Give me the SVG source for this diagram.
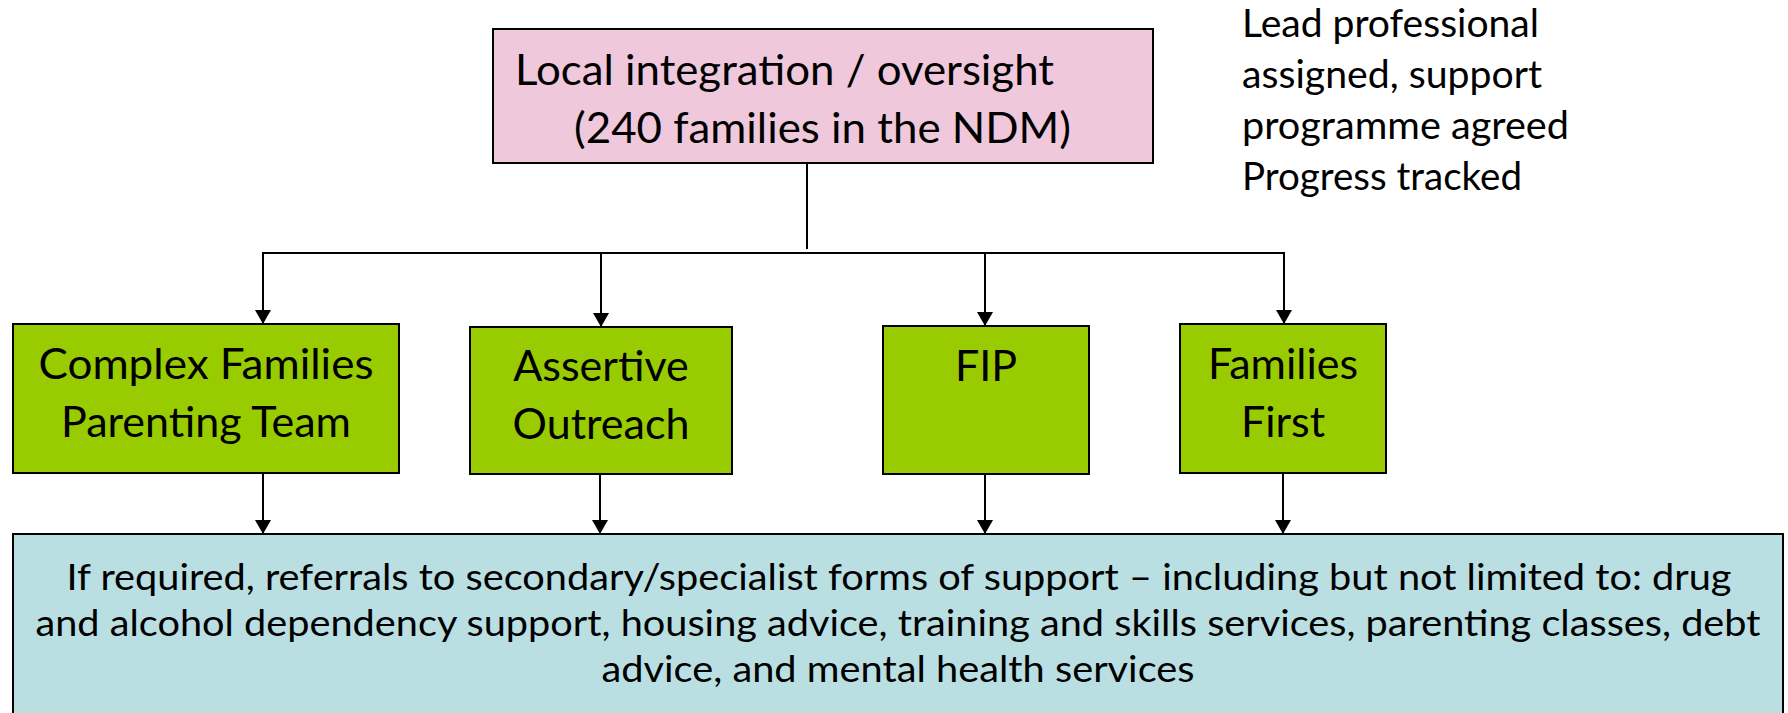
<svg xmlns="http://www.w3.org/2000/svg" width="1788" height="713" viewBox="0 0 1788 713">
  <defs>
    <marker id="arrow" viewBox="0 0 14 16" refX="14" refY="8" markerWidth="14" markerHeight="16" markerUnits="userSpaceOnUse" orient="auto">
      <path d="M0,0 L14,8 L0,16 Z" fill="#000"/>
    </marker>
  </defs>
  <style>
    text { font-family: Lato, "Liberation Sans", sans-serif; fill: #000; }
    .box { stroke: #000; stroke-width: 2; }
    .pink { fill: #EFC8DC; }
    .green { fill: #99CC00; }
    .blue { fill: #B9DFE3; }
    .big { font-size: 43px; }
    .mid { font-size: 38px; }
    .small { font-size: 36px; }
    .c { text-anchor: middle; }
    .conn { stroke: #000; stroke-width: 2; fill: none; }
    .arr { stroke: #000; stroke-width: 2; fill: none; marker-end: url(#arrow); }
  </style>
  <rect width="1788" height="713" fill="#fff"/>

  <g id="connectors">
    <line class="conn" x1="807" y1="163" x2="807" y2="249"/>
    <line class="conn" x1="262" y1="253" x2="1285" y2="253"/>
    <line class="arr" x1="263" y1="253" x2="263" y2="324"/>
    <line class="arr" x1="601" y1="253" x2="601" y2="327"/>
    <line class="arr" x1="985" y1="253" x2="985" y2="326"/>
    <line class="arr" x1="1284" y1="253" x2="1284" y2="324"/>
    <line class="arr" x1="263" y1="473" x2="263" y2="534"/>
    <line class="arr" x1="600" y1="474" x2="600" y2="534"/>
    <line class="arr" x1="985" y1="474" x2="985" y2="534"/>
    <line class="arr" x1="1283" y1="473" x2="1283" y2="534"/>
  </g>

  <g id="oversight">
    <rect class="box pink" x="493" y="29" width="660" height="134"/>
    <text class="big" x="515" y="85" textLength="539" lengthAdjust="spacingAndGlyphs">Local integration / oversight</text>
    <text class="big" x="574" y="143" textLength="497" lengthAdjust="spacingAndGlyphs">(240 families in the NDM)</text>
  </g>

  <g id="lead-note">
    <text class="mid" x="1242" y="37" textLength="297" lengthAdjust="spacingAndGlyphs">Lead professional</text>
    <text class="mid" x="1242" y="88" textLength="300" lengthAdjust="spacingAndGlyphs">assigned, support</text>
    <text class="mid" x="1242" y="139" textLength="327" lengthAdjust="spacingAndGlyphs">programme agreed</text>
    <text class="mid" x="1242" y="190" textLength="280" lengthAdjust="spacingAndGlyphs">Progress tracked</text>
  </g>

  <g id="complex-families">
    <rect class="box green" x="13" y="324" width="386" height="149"/>
    <text class="big c" x="206" y="379" textLength="335" lengthAdjust="spacingAndGlyphs">Complex Families</text>
    <text class="big c" x="206" y="437">Parenting Team</text>
  </g>

  <g id="assertive-outreach">
    <rect class="box green" x="470" y="327" width="262" height="147"/>
    <text class="big c" x="601" y="381">Assertive</text>
    <text class="big c" x="601" y="439">Outreach</text>
  </g>

  <g id="fip">
    <rect class="box green" x="883" y="326" width="206" height="148"/>
    <text class="big c" x="986" y="381">FIP</text>
  </g>

  <g id="families-first">
    <rect class="box green" x="1180" y="324" width="206" height="149"/>
    <text class="big c" x="1283" y="379">Families</text>
    <text class="big c" x="1283" y="437">First</text>
  </g>

  <g id="referrals">
    <rect class="box blue" x="13" y="534" width="1770" height="200"/>
    <text class="small c" x="899" y="590" textLength="1665" lengthAdjust="spacingAndGlyphs">If required, referrals to secondary/specialist forms of support – including but not limited to: drug</text>
    <text class="small c" x="898" y="636" textLength="1725" lengthAdjust="spacingAndGlyphs">and alcohol dependency support, housing advice, training and skills services, parenting classes, debt</text>
    <text class="small c" x="898" y="682" textLength="593" lengthAdjust="spacingAndGlyphs">advice, and mental health services</text>
  </g>
</svg>
